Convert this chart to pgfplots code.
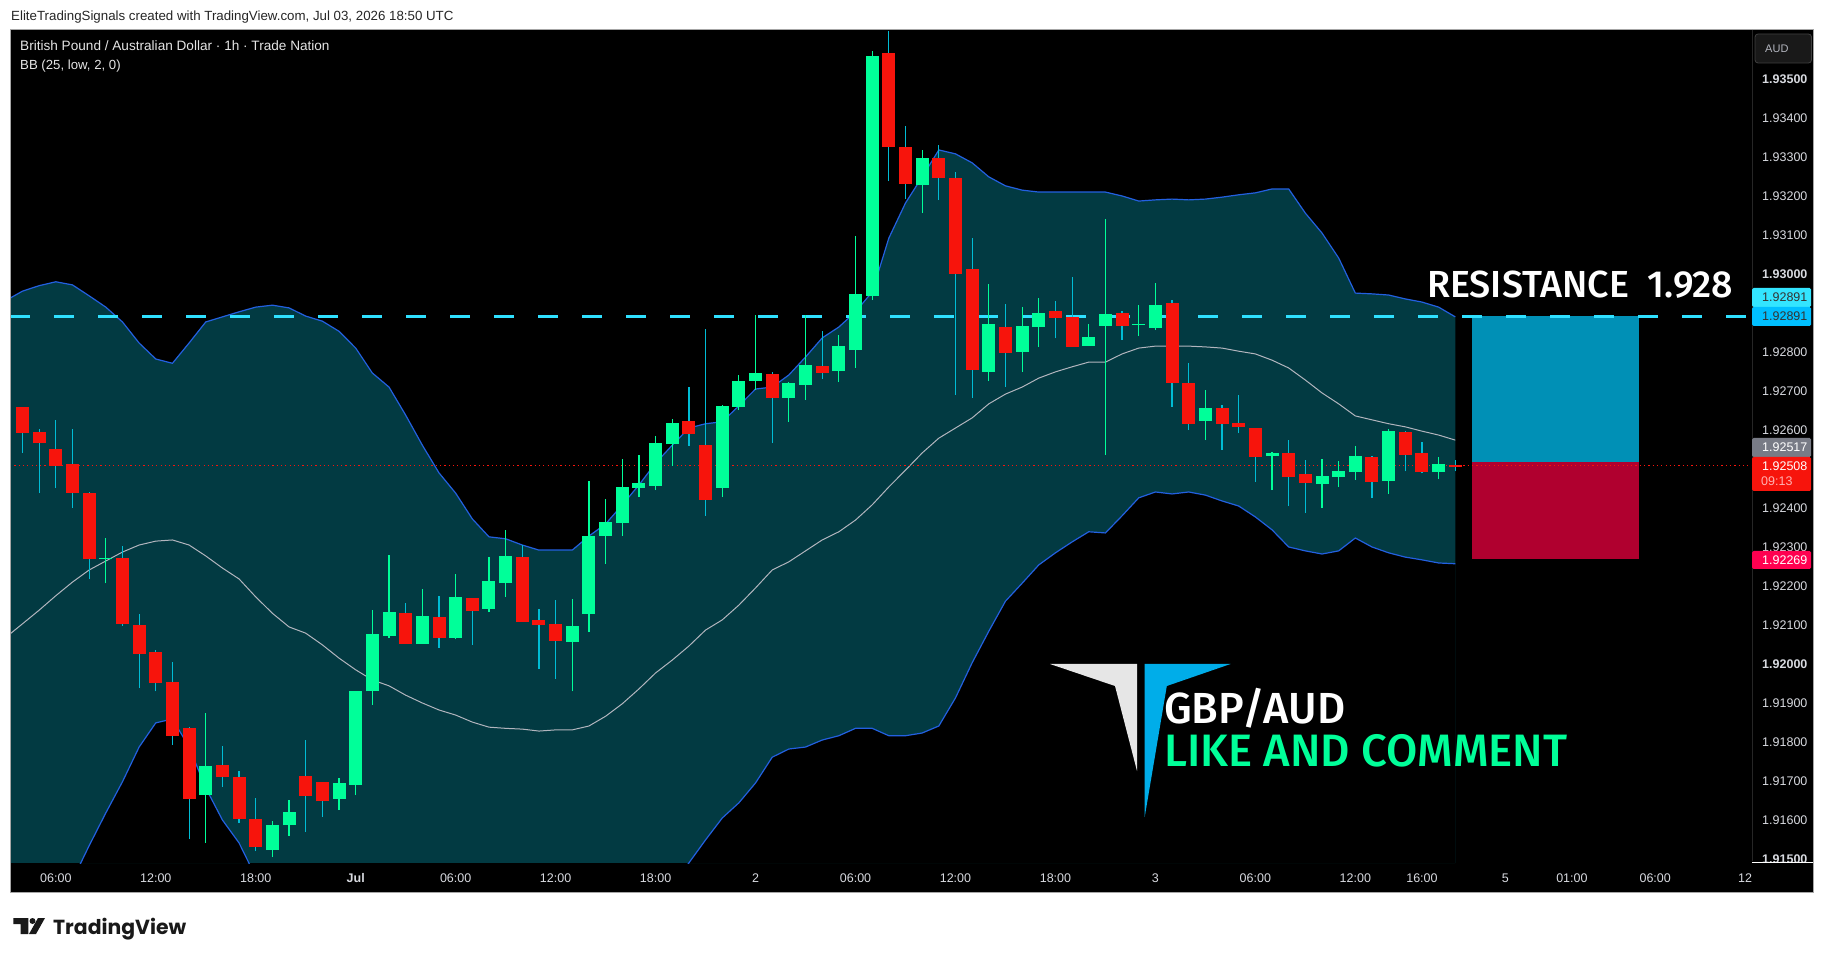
\documentclass[border=0pt]{standalone}
\usepackage{fontspec}
\usepackage{graphicx}
\usepackage{pgfplots}
\usepackage{pgfplotstable}
\pgfplotsset{compat=1.18}
\setmainfont{Liberation Sans}
\newfontfamily\bigfont{Fira Sans Medium}
\newfontfamily\logofont{Poppins}
\definecolor{bandfill}{HTML}{023A42}
\definecolor{bandline}{HTML}{2360E0}
\definecolor{midline}{HTML}{B2B5BE}
\definecolor{upc}{HTML}{00FF99}
\definecolor{dnc}{HTML}{F7140C}
\definecolor{wickc}{HTML}{00BCD4}
\definecolor{dashc}{HTML}{2FE0FF}
\definecolor{boxup}{HTML}{0090B6}
\definecolor{boxdn}{HTML}{B0002F}
\definecolor{axtxt}{HTML}{D8DAE0}
\definecolor{tagone}{HTML}{33E5FF}
\definecolor{tagtwo}{HTML}{00BFFF}
\definecolor{taggray}{HTML}{787B86}
\definecolor{tagpink}{HTML}{FF0050}
\definecolor{logoblue}{HTML}{00ADE9}
\definecolor{logogray}{HTML}{E6E6E6}
\pgfplotstableread{
i o h l c
0 1.92659 1.92659 1.92541 1.92592
1 1.92595 1.92603 1.92438 1.92566
2 1.92551 1.92626 1.92451 1.92508
3 1.92513 1.92603 1.92400 1.92438
4 1.92438 1.92441 1.92218 1.92269
6 1.92271 1.92303 1.92098 1.92103
7 1.92100 1.92128 1.91938 1.92026
8 1.92031 1.92036 1.91930 1.91951
9 1.91954 1.92005 1.91792 1.91816
10 1.91835 1.91838 1.91551 1.91654
12 1.91741 1.91790 1.91685 1.91710
13 1.91710 1.91725 1.91592 1.91603
14 1.91603 1.91656 1.91520 1.91531
17 1.91713 1.91805 1.91569 1.91662
18 1.91698 1.91698 1.91608 1.91648
23 1.92130 1.92156 1.92052 1.92052
25 1.92120 1.92175 1.92041 1.92066
27 1.92169 1.92169 1.92049 1.92135
30 1.92274 1.92305 1.92108 1.92108
31 1.92113 1.92141 1.91987 1.92100
32 1.92103 1.92164 1.91962 1.92059
40 1.92623 1.92710 1.92559 1.92590
41 1.92561 1.92859 1.92380 1.92421
45 1.92744 1.92749 1.92566 1.92682
48 1.92764 1.92853 1.92731 1.92746
52 1.93566 1.93623 1.93238 1.93326
53 1.93326 1.93380 1.93192 1.93231
55 1.93297 1.93331 1.93190 1.93246
56 1.93246 1.93262 1.92690 1.93000
57 1.93013 1.93092 1.92682 1.92754
59 1.92864 1.92923 1.92710 1.92797
62 1.92905 1.92930 1.92835 1.92887
63 1.92890 1.92992 1.92813 1.92813
66 1.92900 1.92905 1.92831 1.92867
69 1.92925 1.92933 1.92659 1.92720
70 1.92720 1.92771 1.92600 1.92616
72 1.92656 1.92664 1.92549 1.92616
73 1.92618 1.92690 1.92592 1.92608
74 1.92605 1.92605 1.92467 1.92531
76 1.92541 1.92574 1.92405 1.92479
77 1.92487 1.92523 1.92387 1.92464
81 1.92531 1.92533 1.92425 1.92467
83 1.92595 1.92597 1.92494 1.92536
84 1.92541 1.92569 1.92489 1.92492
86 1.92510 1.92523 1.92494 1.92505
}\redcandles
\pgfplotstableread{
i o h l c
5 1.92269 1.92323 1.92207 1.92271
11 1.91664 1.91874 1.91541 1.91739
15 1.91523 1.91597 1.91505 1.91587
16 1.91587 1.91651 1.91559 1.91621
19 1.91654 1.91707 1.91626 1.91695
20 1.91690 1.91930 1.91664 1.91930
21 1.91930 1.92138 1.91895 1.92077
22 1.92072 1.92279 1.92066 1.92133
24 1.92052 1.92193 1.92052 1.92123
26 1.92066 1.92231 1.92064 1.92172
28 1.92141 1.92274 1.92133 1.92212
29 1.92207 1.92344 1.92172 1.92277
33 1.92057 1.92167 1.91930 1.92098
34 1.92128 1.92469 1.92082 1.92328
35 1.92328 1.92423 1.92257 1.92364
36 1.92361 1.92526 1.92328 1.92454
37 1.92451 1.92536 1.92428 1.92464
38 1.92457 1.92585 1.92446 1.92566
39 1.92564 1.92628 1.92508 1.92618
42 1.92451 1.92664 1.92428 1.92662
43 1.92659 1.92741 1.92651 1.92726
44 1.92726 1.92895 1.92703 1.92746
46 1.92682 1.92723 1.92621 1.92720
47 1.92715 1.92895 1.92677 1.92767
49 1.92751 1.92844 1.92723 1.92815
50 1.92805 1.93097 1.92759 1.92949
51 1.92944 1.93572 1.92933 1.93559
54 1.93228 1.93318 1.93156 1.93297
58 1.92749 1.92975 1.92725 1.92872
60 1.92800 1.92915 1.92749 1.92867
61 1.92864 1.92938 1.92813 1.92900
64 1.92815 1.92872 1.92815 1.92838
65 1.92867 1.93141 1.92536 1.92897
67 1.92869 1.92920 1.92841 1.92872
68 1.92861 1.92977 1.92856 1.92920
71 1.92623 1.92703 1.92574 1.92656
75 1.92533 1.92544 1.92446 1.92541
78 1.92461 1.92526 1.92400 1.92482
79 1.92479 1.92521 1.92454 1.92494
80 1.92492 1.92559 1.92472 1.92533
82 1.92469 1.92603 1.92436 1.92597
85 1.92492 1.92531 1.92474 1.92513
}\greencandles
\pgfplotstableread{
i u m d
-0.75 1.92938 1.92077 1.91113
0 1.92956 1.92103 1.91177
1 1.92970 1.92138 1.91267
2 1.92980 1.92175 1.91356
3 1.92972 1.92210 1.91446
4 1.92944 1.92241 1.91534
5 1.92915 1.92264 1.91618
6 1.92877 1.92287 1.91698
7 1.92823 1.92305 1.91787
8 1.92782 1.92315 1.91849
9 1.92771 1.92318 1.91859
10 1.92823 1.92305 1.91787
11 1.92877 1.92277 1.91682
12 1.92890 1.92246 1.91600
13 1.92903 1.92218 1.91541
14 1.92915 1.92172 1.91454
15 1.92920 1.92130 1.91369
16 1.92913 1.92095 1.91305
17 1.92892 1.92079 1.91267
18 1.92879 1.92049 1.91228
19 1.92853 1.92015 1.91190
20 1.92810 1.91985 1.91138
21 1.92746 1.91959 1.91138
22 1.92710 1.91944 1.91138
23 1.92638 1.91920 1.91138
24 1.92561 1.91900 1.91138
25 1.92490 1.91882 1.91138
26 1.92438 1.91869 1.91138
27 1.92372 1.91851 1.91138
28 1.92326 1.91838 1.91138
29 1.92321 1.91835 1.91138
30 1.92305 1.91833 1.91138
31 1.92292 1.91828 1.91138
32 1.92292 1.91831 1.91138
33 1.92292 1.91831 1.91138
34 1.92328 1.91841 1.91177
35 1.92359 1.91866 1.91228
36 1.92408 1.91898 1.91279
37 1.92459 1.91936 1.91331
38 1.92515 1.91977 1.91382
39 1.92561 1.92010 1.91433
40 1.92605 1.92046 1.91490
41 1.92616 1.92087 1.91549
42 1.92621 1.92113 1.91605
43 1.92662 1.92151 1.91644
44 1.92705 1.92195 1.91695
45 1.92710 1.92241 1.91761
46 1.92741 1.92262 1.91782
47 1.92787 1.92290 1.91787
48 1.92836 1.92318 1.91805
49 1.92864 1.92339 1.91816
50 1.92903 1.92369 1.91835
51 1.92954 1.92408 1.91835
52 1.93092 1.92454 1.91816
53 1.93182 1.92497 1.91816
54 1.93249 1.92541 1.91823
55 1.93318 1.92579 1.91841
56 1.93308 1.92605 1.91913
57 1.93285 1.92631 1.92003
58 1.93249 1.92667 1.92084
59 1.93226 1.92692 1.92161
60 1.93215 1.92710 1.92207
61 1.93210 1.92733 1.92254
62 1.93210 1.92749 1.92285
63 1.93210 1.92762 1.92313
64 1.93210 1.92774 1.92339
65 1.93210 1.92774 1.92336
66 1.93200 1.92795 1.92380
67 1.93187 1.92810 1.92426
68 1.93190 1.92815 1.92441
69 1.93192 1.92815 1.92436
70 1.93190 1.92815 1.92441
71 1.93192 1.92813 1.92433
72 1.93197 1.92810 1.92418
73 1.93203 1.92802 1.92405
74 1.93208 1.92795 1.92377
75 1.93218 1.92779 1.92344
76 1.93218 1.92759 1.92300
77 1.93156 1.92728 1.92290
78 1.93105 1.92695 1.92282
79 1.93041 1.92667 1.92290
80 1.92951 1.92636 1.92323
81 1.92949 1.92626 1.92300
82 1.92946 1.92616 1.92285
83 1.92936 1.92608 1.92274
84 1.92928 1.92597 1.92267
85 1.92915 1.92587 1.92259
86 1.92890 1.92574 1.92257
}\bbands
\begin{document}
\begin{tikzpicture}[x=1pt,y=1pt]
\fill[white] (0,0) rectangle (1825,959);
\fill[black] (10,67) rectangle (1813,929);
\begin{axis}[
  at={(10pt,96pt)},anchor=south west,scale only axis,
  width=1742pt,height=833pt,
  xmin=-0.75,xmax=103.81,ymin=1.914897,ymax=1.936256,
  axis line style={draw=none},
  major tick length=0pt,
  xtick={2,8,14,20,26,32,38,44,50,56,62,68,74,80,84,89,93,98,103.4},
  xticklabels={06:00,12:00,18:00,\textbf{Jul},06:00,12:00,18:00,2,06:00,12:00,18:00,3,06:00,12:00,16:00,5,01:00,06:00,12},
  xticklabel style={anchor=center,yshift=-15pt,font=\fontsize{12.5}{14}\selectfont,text=axtxt,inner sep=0pt},
  ytick={1.915,1.916,1.917,1.918,1.919,1.920,1.921,1.922,1.923,1.924,1.925,1.926,1.927,1.928,1.929,1.930,1.931,1.932,1.933,1.934,1.935},
  yticklabels={\textbf{1.91500},1.91600,1.91700,1.91800,1.91900,\textbf{1.92000},1.92100,1.92200,1.92300,1.92400,1.92500,1.92600,1.92700,1.92800,1.92900,\textbf{1.93000},1.93100,1.93200,1.93300,1.93400,\textbf{1.93500}},
  yticklabel pos=right,
  yticklabel style={anchor=west,xshift=10pt,font=\fontsize{12.5}{14}\selectfont,text=axtxt,inner sep=0pt},
]
% the band: area under the upper line, then black under the lower line
\addplot[fill=bandfill,draw=none,forget plot] table[x=i,y=u]{\bbands} \closedcycle;
\addplot[fill=black,draw=none,forget plot] table[x=i,y=d]{\bbands} \closedcycle;
\addplot[color=bandline,line width=1.2pt,forget plot] table[x=i,y=u]{\bbands};
\addplot[color=bandline,line width=1.2pt,forget plot] table[x=i,y=d]{\bbands};
\addplot[color=midline,line width=1pt,forget plot] table[x=i,y=m]{\bbands};
% risk / reward boxes
\addplot[draw=none,fill=boxup,forget plot] coordinates {(87,1.92891)(97,1.92891)(97,1.92517)(87,1.92517)} --cycle;
\addplot[draw=none,fill=boxdn,forget plot] coordinates {(87,1.92517)(97,1.92517)(97,1.92269)(87,1.92269)} --cycle;
% lines
\addplot[color=dashc,line width=3.6pt,dash pattern=on 20pt off 24pt,forget plot] coordinates {(-0.75,1.92891)(103.81,1.92891)};
\addplot[color=dnc,line width=1pt,dash pattern=on 1.2pt off 3.1pt,forget plot] coordinates {(-0.75,1.92508)(103.81,1.92508)};
% wicks
\addplot[draw=none,mark=none,forget plot,error bars/.cd,y dir=plus,y explicit,error mark=none,error bar style={line width=1.2pt,draw=wickc}]
  table[x=i,y=l,y error plus expr=\thisrow{h}-\thisrow{l}]{\redcandles};
\addplot[draw=none,mark=none,forget plot,error bars/.cd,y dir=plus,y explicit,error mark=none,error bar style={line width=1.2pt,draw=upc}]
  table[x=i,y=l,y error plus expr=\thisrow{h}-\thisrow{l}]{\greencandles};
% bodies
\addplot[draw=none,mark=none,forget plot,error bars/.cd,y dir=plus,y explicit,error mark=none,error bar style={line width=13pt,draw=dnc}]
  table[x=i,y=c,y error plus expr=\thisrow{o}-\thisrow{c}]{\redcandles};
\addplot[draw=none,mark=none,forget plot,error bars/.cd,y dir=plus,y explicit,error mark=none,error bar style={line width=13pt,draw=upc}]
  table[x=i,y=o,y error plus expr=\thisrow{c}-\thisrow{o}]{\greencandles};
\end{axis}
\draw[color=black!35,line width=1pt] (10,67) rectangle (1813,929);
\begin{scope}[x=1pt,y=-1pt,yshift=959pt]
% lower right clean-up: time axis band hides the half-cut 1.91500 label
\fill[black] (1752,863) rectangle (1812.5,891);
\draw[color=white,line width=1pt] (1752,862) -- (1812.5,862);
\draw[color=black!85!white,line width=0.6pt] (1752,30) -- (1752,861);
% price tags
\fill[color=tagone,rounded corners=1.5pt] (1752,288) rectangle (1811,307);
\fill[color=tagtwo,rounded corners=1.5pt] (1752,307) rectangle (1811,326);
\fill[color=taggray,rounded corners=1.5pt] (1752,438) rectangle (1811,457);
\fill[color=dnc,rounded corners=1.5pt] (1752,457) rectangle (1811,491);
\fill[color=tagpink,rounded corners=1.5pt] (1752,551) rectangle (1811,569);
\tikzset{tag/.style={anchor=base west,inner sep=0pt,font=\fontsize{12.5}{14}\selectfont}}
\node[tag,text=black!80] at (1762,302) {1.92891};
\node[tag,text=black!80] at (1762,321) {1.92891};
\node[tag,text=white] at (1762,452) {1.92517};
\node[tag,text=white] at (1762,471) {1.92508};
\node[tag,text=red!30!white] at (1761,486) {09:13};
\node[tag,text=white] at (1762,565) {1.92269};
% currency button
\draw[fill=black!90!white,draw=black!75!white,rounded corners=3pt,line width=0.8pt] (1755,34) rectangle (1811.5,63);
\node[anchor=base west,inner sep=0pt,text=midline,font=\fontsize{11}{13}\selectfont] at (1765,53) {AUD};
% header
\node[anchor=base west,inner sep=0pt,text=black!85,font=\fontsize{13.3}{15}\selectfont] at (11,21) {EliteTradingSignals created with TradingView.com, Jul 03, 2026 18:50 UTC};
\node[anchor=base west,inner sep=0pt,text=white!90!black,font=\fontsize{13.6}{15}\selectfont] at (20,51) {British Pound / Australian Dollar · 1h · Trade Nation};
\node[anchor=base west,inner sep=0pt,text=white!90!black,font=\fontsize{13.2}{15}\selectfont] at (20,70) {BB (25, low, 2, 0)};
% annotations
\node[anchor=base west,inner sep=0pt,text=white] at (1427,298) {\resizebox{306pt}{!}{\bigfont\fontsize{35}{40}\selectfont RESISTANCE\ \ 1.928}};
\fill[color=logogray] (1050,664) -- (1137,664) -- (1137,771) -- (1115,686) -- cycle;
\fill[color=logoblue] (1144.7,664) -- (1230.5,664) -- (1166.8,686) -- (1144.7,817) -- cycle;
\node[anchor=base west,inner sep=0pt,text=white] at (1164,723) {\resizebox{181pt}{!}{\bigfont\fontsize{43}{48}\selectfont GBP/AUD}};
\node[anchor=base west,inner sep=0pt,text=upc] at (1164,766) {\resizebox{403pt}{!}{\bigfont\fontsize{43}{48}\selectfont LIKE AND COMMENT}};
% TradingView mark
\fill[color=black!90] (13.3,918) -- (28.3,918) -- (28.3,934) -- (20.7,934) -- (20.7,924) -- (13.3,924) -- cycle;
\fill[color=black!90] (32.5,921) circle (3);
\fill[color=black!90] (38,918) -- (45,918) -- (36,934) -- (29,934) -- cycle;
\node[anchor=base west,inner sep=0pt,text=black!90] at (53,934) {\resizebox{133pt}{!}{\logofont\bfseries\fontsize{23}{26}\selectfont TradingView}};
\end{scope}
\pgfresetboundingbox
\path[use as bounding box] (0,0) rectangle (1825,959);
\end{tikzpicture}
\end{document}
